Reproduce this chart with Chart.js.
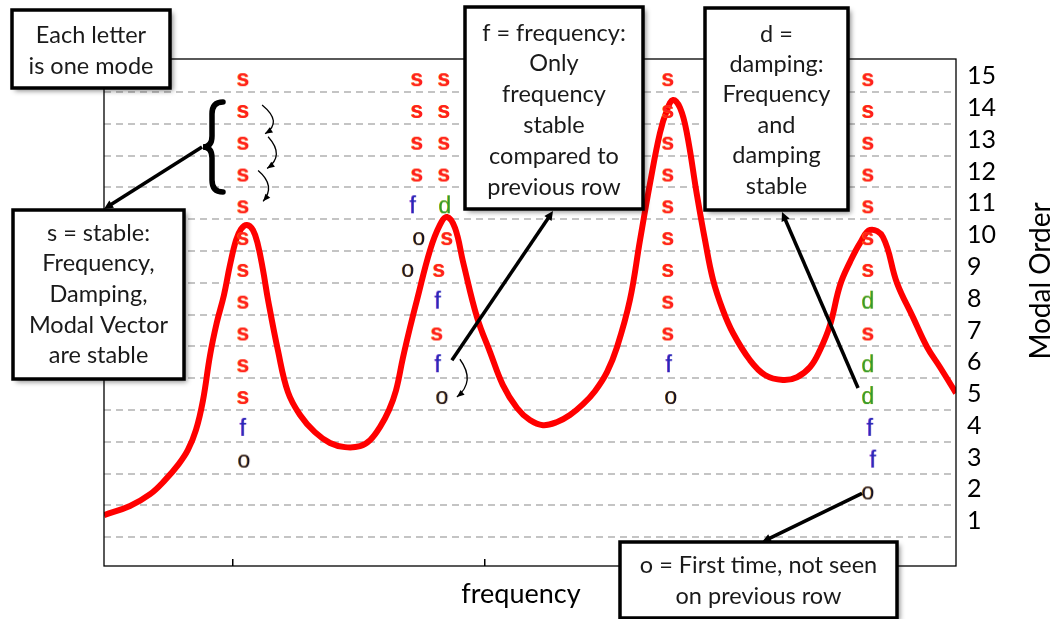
<!DOCTYPE html>
<html>
<head>
<meta charset="utf-8">
<script src="https://cdn.jsdelivr.net/npm/chart.js@4.4.1/dist/chart.umd.min.js"></script>
<style>
  html, body { margin: 0; padding: 0; background: #fff; }
  #wrap { width: 1054px; height: 619px; position: relative; }
</style>
</head>
<body>
<div id="wrap"><canvas id="chart"></canvas></div>
<script>
// FRF magnitude curve (frequency, amplitude in modal-order units)
const curveFreq = [48.8, 59.1, 67.1, 73.0, 78.2, 82.1, 85.3, 88.1, 90.9, 93.6, 96.4, 98.8, 101.2, 103.2, 105.5, 107.9, 109.9, 111.9, 113.9, 117.8, 121.8, 126.6, 132.5, 138.5, 144.4, 150.4, 154.4, 158.3, 161.9, 164.7, 167.4, 170.2, 173.0, 178.2, 182.1, 184.9, 188.1, 191.3, 196.8, 202.0, 207.1, 212.7, 217.8, 223.0, 228.6, 233.7, 238.9, 243.6, 248.4, 252.4, 257.5, 261.5, 265.5, 269.4, 272.2, 274.6, 277.4, 280.1, 284.1, 287.3, 290.5, 294.4, 298.4, 305.1, 311.1, 318.2, 323.8, 329.0, 332.9, 336.9, 340.9, 344.8, 348.8, 352.8, 357.9, 363.5, 369.8, 375.4, 380.5, 386.9];
const curveAmp = [1.19, 1.48, 1.85, 2.29, 2.77, 3.24, 3.87, 4.81, 6.23, 7.26, 8.11, 9.06, 9.84, 10.19, 10.32, 10.16, 9.69, 8.90, 7.96, 6.38, 5.06, 4.34, 3.80, 3.46, 3.33, 3.36, 3.55, 3.96, 4.50, 5.12, 6.13, 7.08, 7.96, 9.53, 10.32, 10.57, 10.22, 9.15, 7.42, 6.32, 5.28, 4.56, 4.18, 4.02, 4.12, 4.34, 4.68, 5.09, 5.69, 6.48, 7.96, 9.84, 11.64, 13.21, 13.93, 14.25, 14.00, 13.21, 11.26, 9.84, 8.59, 7.64, 6.92, 6.07, 5.60, 5.44, 5.53, 5.85, 6.38, 7.17, 8.43, 9.15, 9.75, 10.16, 9.94, 8.49, 7.42, 6.48, 5.85, 5.03];

// stability letters: s = stable, f = frequency, d = damping, o = new
const sFreq = [104.0, 104.0, 104.0, 104.0, 104.0, 104.0, 104.0, 104.0, 104.0, 104.0, 104.0,
  173.0, 173.0, 173.0, 173.0,
  180.9, 181.7, 184.9, 183.7, 183.7, 183.7, 183.7,
  272.6, 272.6, 272.6, 272.6, 272.6, 272.6, 272.6, 272.6, 272.6,
  352.0, 352.0, 352.0, 352.0, 352.0, 352.0, 352.0, 352.0];
const sOrder = [5, 6, 7, 8, 9, 10, 11, 12, 13, 14, 15,
  12, 13, 14, 15,
  7, 9, 10, 12, 13, 14, 15,
  7, 8, 9, 10, 11, 12, 13, 14, 15,
  7, 9, 10, 11, 12, 13, 14, 15];
const fFreq = [104.0, 171.4, 181.3, 181.3, 273.0, 352.8, 354.0];
const fOrder = [4, 11, 8, 6, 6, 4, 3];
const dFreq = [184.1, 352.0, 352.0, 352.0];
const dOrder = [11, 8, 6, 5];
const oFreq = [104.4, 173.8, 169.4, 183.0, 273.8, 352.0];
const oOrder = [3, 10, 9, 5, 5, 2];

const orderTicks = [1, 2, 3, 4, 5, 6, 7, 8, 9, 10, 11, 12, 13, 14, 15];
const gridTicks = [0.5, 1.5, 2.5, 3.5, 4.5, 5.5, 6.5, 7.5, 8.5, 9.5, 10.5, 11.5, 12.5, 13.5, 14.5];
const freqTicks = [100, 200, 300];

const TEXT_FONT = 'Lato, "Open Sans", sans-serif';

function pts(xs, ys) {
  return xs.map((x, i) => ({ x: x, y: ys[i] }));
}

// letter glyph used as point style
function glyph(ch, fill, fringe, weight) {
  const c = document.createElement('canvas');
  c.width = 26;
  c.height = 30;
  const g = c.getContext('2d');
  g.font = weight + ' 23px "Liberation Sans", Arial, sans-serif';
  g.textAlign = 'center';
  g.textBaseline = 'alphabetic';
  g.fillStyle = fringe;
  g.fillText(ch, 12.3, 24.5);
  g.fillStyle = fill;
  g.fillText(ch, 13, 24.5);
  return c;
}

function letterSet(label, xs, ys, img) {
  return {
    type: 'scatter',
    label: label,
    data: pts(xs, ys),
    pointStyle: img,
    pointRadius: 10,
    pointHoverRadius: 10,
    showLine: false,
    order: 0
  };
}

function box(ctx, x, y, w, h, lines, cy, lh) {
  ctx.save();
  ctx.shadowColor = 'rgba(0,0,0,0.45)';
  ctx.shadowBlur = 5;
  ctx.shadowOffsetX = 3;
  ctx.shadowOffsetY = 3;
  ctx.fillStyle = '#fff';
  ctx.fillRect(x, y, w, h);
  ctx.restore();
  ctx.save();
  ctx.lineWidth = 3.5;
  ctx.strokeStyle = '#000';
  ctx.strokeRect(x, y, w, h);
  ctx.fillStyle = '#1a1a1a';
  ctx.font = '23.5px ' + TEXT_FONT;
  ctx.textAlign = 'center';
  ctx.textBaseline = 'middle';
  lines.forEach((t, i) => ctx.fillText(t, x + w / 2, cy + i * lh));
  ctx.restore();
}

function arrow(ctx, x1, y1, x2, y2, width, head) {
  const a = Math.atan2(y2 - y1, x2 - x1);
  ctx.save();
  ctx.strokeStyle = '#000';
  ctx.fillStyle = '#000';
  ctx.lineWidth = width;
  ctx.beginPath();
  ctx.moveTo(x1, y1);
  ctx.lineTo(x2 - Math.cos(a) * head * 0.6, y2 - Math.sin(a) * head * 0.6);
  ctx.stroke();
  ctx.beginPath();
  ctx.moveTo(x2, y2);
  ctx.lineTo(x2 - head * Math.cos(a - 0.45), y2 - head * Math.sin(a - 0.45));
  ctx.lineTo(x2 - head * Math.cos(a + 0.45), y2 - head * Math.sin(a + 0.45));
  ctx.closePath();
  ctx.fill();
  ctx.restore();
}

function curvedArrow(ctx, x1, y1, cx, cy, x2, y2) {
  ctx.save();
  ctx.strokeStyle = '#000';
  ctx.fillStyle = '#000';
  ctx.lineWidth = 1.3;
  ctx.beginPath();
  ctx.moveTo(x1, y1);
  ctx.quadraticCurveTo(cx, cy, x2, y2);
  ctx.stroke();
  const a = Math.atan2(y2 - cy, x2 - cx);
  const head = 8;
  ctx.beginPath();
  ctx.moveTo(x2, y2);
  ctx.lineTo(x2 - head * Math.cos(a - 0.4), y2 - head * Math.sin(a - 0.4));
  ctx.lineTo(x2 - head * Math.cos(a + 0.4), y2 - head * Math.sin(a + 0.4));
  ctx.closePath();
  ctx.fill();
  ctx.restore();
}

const annotations = {
  id: 'annotations',
  afterDraw(chart) {
    const ctx = chart.ctx;
    const area = chart.chartArea;
    const xs = chart.scales.x;
    const ys = chart.scales.y;
    const px = v => xs.getPixelForValue(v);
    const py = v => ys.getPixelForValue(v);

    // plot frame
    ctx.save();
    ctx.strokeStyle = '#000';
    ctx.lineWidth = 1.3;
    ctx.strokeRect(area.left, area.top, area.right - area.left, area.bottom - area.top);

    // axis titles
    ctx.fillStyle = '#000';
    ctx.textAlign = 'center';
    ctx.textBaseline = 'middle';
    ctx.font = '27px ' + TEXT_FONT;
    ctx.fillText('frequency', 521, 594);
    ctx.font = '28px ' + TEXT_FONT;
    ctx.translate(1041, 281);
    ctx.rotate(-Math.PI / 2);
    ctx.fillText('Modal Order', 0, 0);
    ctx.restore();

    // brace and small arrows along the stable column
    const ca = px(104.0);
    ctx.save();
    ctx.strokeStyle = '#000';
    ctx.lineWidth = 5.5;
    ctx.lineCap = 'round';
    ctx.beginPath();
    ctx.moveTo(223, 102);
    ctx.quadraticCurveTo(212, 102, 212, 114);
    ctx.lineTo(212, 136);
    ctx.quadraticCurveTo(212, 147, 203, 147);
    ctx.quadraticCurveTo(212, 147, 212, 158);
    ctx.lineTo(212, 180);
    ctx.quadraticCurveTo(212, 192, 223, 192);
    ctx.stroke();
    ctx.restore();
    curvedArrow(ctx, ca + 19, py(14) - 3, ca + 40, py(13.55), ca + 22, py(13) - 6);
    curvedArrow(ctx, ca + 25, py(13) - 3, ca + 42, py(12.5), ca + 24, py(12) - 3);
    curvedArrow(ctx, ca + 15, py(12) - 1, ca + 33, py(11.55), ca + 20, py(11) - 2);
    curvedArrow(ctx, px(181.3) + 22, py(6) - 3, px(181.3) + 38, py(5.4), px(181.3) + 19, py(5) + 3);

    // boxes
    box(ctx, 12, 10, 158, 78, ['Each letter', 'is one mode'], 35, 31);
    box(ctx, 13, 210, 171, 169, ['s = stable:', 'Frequency,', 'Damping,', 'Modal Vector', 'are stable'], 233, 30.7);
    box(ctx, 465, 7, 178, 202, ['f = frequency:', 'Only', 'frequency', 'stable', 'compared to', 'previous row'], 33, 30.8);
    box(ctx, 705, 8, 143, 202, ['d =', 'damping:', 'Frequency', 'and', 'damping', 'stable'], 34, 30.4);
    box(ctx, 620, 542, 277, 76, ['o = First time, not seen', 'on previous row'], 565, 31);

    // pointer arrows
    arrow(ctx, 202, 147, 104, 209, 3.5, 10);
    arrow(ctx, px(181.3) + 14, py(6) - 2, 553, 211, 3.5, 10);
    arrow(ctx, px(352.0) - 10, py(5) - 6, 782, 212, 3.5, 10);
    arrow(ctx, px(352.0) - 6, py(2) + 4, 762, 542, 3.5, 10);
  }
};

const chart = new Chart(document.getElementById('chart'), {
  type: 'line',
  data: {
    datasets: [
      letterSet('s', sFreq, sOrder, glyph('s', '#ff1e1e', '#ff9a00', 'bold')),
      letterSet('f', fFreq, fOrder, glyph('f', '#2626b8', '#9a4ad0', 'normal')),
      letterSet('d', dFreq, dOrder, glyph('d', '#2f9a2f', '#e8c400', 'normal')),
      letterSet('o', oFreq, oOrder, glyph('o', '#101028', '#e88a00', 'normal')),
      {
        type: 'line',
        label: 'FRF',
        data: pts(curveFreq, curveAmp),
        borderColor: '#ff0000',
        borderWidth: 6,
        pointRadius: 0,
        tension: 0.4,
        fill: false,
        order: 1
      }
    ]
  },
  options: {
    responsive: true,
    maintainAspectRatio: false,
    animation: false,
    events: [],
    layout: { padding: { left: 104, top: 59, right: 0, bottom: 0 } },
    plugins: {
      legend: { display: false },
      tooltip: { enabled: false }
    },
    scales: {
      x: {
        type: 'linear',
        position: 'bottom',
        min: 48.8,
        max: 386.9,
        afterBuildTicks: axis => { axis.ticks = freqTicks.map(v => ({ value: v })); },
        afterFit: axis => { axis.height = 53; },
        ticks: { display: false },
        grid: { drawOnChartArea: false, drawTicks: true, tickLength: -7, color: '#000', tickColor: '#000', lineWidth: 1.5 },
        border: { display: false }
      },
      yGrid: {
        type: 'linear',
        position: 'right',
        min: -0.41,
        max: 15.54,
        afterBuildTicks: axis => { axis.ticks = gridTicks.map(v => ({ value: v })); },
        afterFit: axis => { axis.width = 0; },
        ticks: { display: false },
        grid: { color: '#c4c4c4', lineWidth: 2, drawTicks: false },
        border: { display: false, dash: [7, 5] }
      },
      y: {
        type: 'linear',
        position: 'right',
        min: -0.41,
        max: 15.54,
        afterBuildTicks: axis => { axis.ticks = orderTicks.map(v => ({ value: v })); },
        afterFit: axis => { axis.width = 98; },
        ticks: { color: '#000', padding: 11, font: { family: TEXT_FONT, size: 25 } },
        grid: { display: false, drawTicks: false },
        border: { display: false }
      }
    }
  },
  plugins: [annotations]
});
</script>
</body>
</html>
